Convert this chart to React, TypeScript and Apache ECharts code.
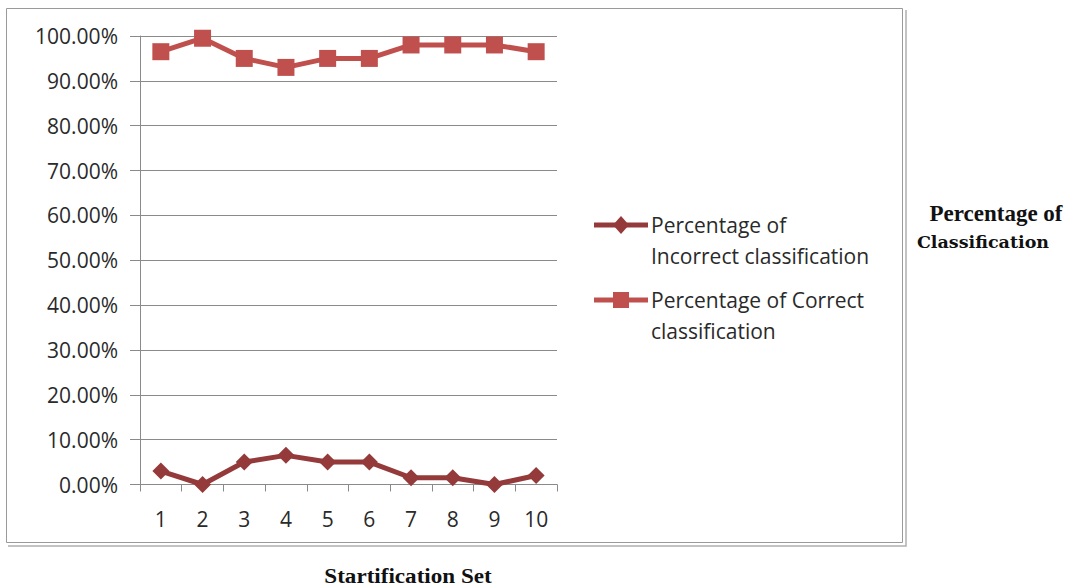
import React, { useEffect, useRef } from "react";
import * as echarts from "echarts";

// Stratification sets 1..10
const categories = ["1", "2", "3", "4", "5", "6", "7", "8", "9", "10"];
// Percentage of incorrect classification per set
const incorrectPct = [3, 0, 5, 6.5, 5, 5, 1.5, 1.5, 0, 2];
// Percentage of correct classification per set
const correctPct = [96.5, 99.5, 95, 93, 95, 95, 98, 98, 98, 96.5];

const incorrectName = "Percentage of Incorrect classification";
const correctName = "Percentage of Correct classification";

const darkRed = "#953a3a";
const red = "#c0504d";
const axisGrey = "#8a8a8a";
const labelFont = "'Open Sans', sans-serif";

export default function App() {
  const ref = useRef<HTMLDivElement>(null);

  useEffect(() => {
    if (!ref.current) return;
    const chart = echarts.init(ref.current, undefined, { renderer: "svg" });

    const legendText = {
      fontFamily: labelFont,
      fontSize: 21,
      fill: "#2a2a2a",
      lineHeight: 31,
      textVerticalAlign: "top",
    };

    chart.setOption({
      animation: false,
      backgroundColor: "#ffffff",
      grid: { left: 140, right: 512, top: 36, bottom: 102.5 },
      xAxis: {
        type: "category",
        data: categories,
        boundaryGap: true,
        axisLine: { show: true, lineStyle: { color: axisGrey, width: 1 } },
        axisTick: { show: true, inside: false, length: 7, lineStyle: { color: axisGrey } },
        axisLabel: { color: "#2a2a2a", fontFamily: labelFont, fontSize: 21, margin: 24 },
        splitLine: { show: false },
      },
      yAxis: {
        type: "value",
        min: 0,
        max: 100,
        interval: 10,
        axisLine: { show: true, lineStyle: { color: axisGrey, width: 1 } },
        axisTick: { show: true, length: 10, lineStyle: { color: axisGrey } },
        axisLabel: {
          color: "#2a2a2a",
          fontFamily: labelFont,
          fontSize: 21,
          margin: 22,
          formatter: (v: number) => v.toFixed(2) + "%",
        },
        splitLine: { show: true, lineStyle: { color: axisGrey, width: 1 } },
      },
      series: [
        {
          name: incorrectName,
          type: "line",
          data: incorrectPct,
          symbol: "diamond",
          symbolSize: 17,
          lineStyle: { color: darkRed, width: 5 },
          itemStyle: { color: darkRed },
        },
        {
          name: correctName,
          type: "line",
          data: correctPct,
          symbol: "rect",
          symbolSize: 17,
          lineStyle: { color: red, width: 5 },
          itemStyle: { color: red },
        },
      ],
      graphic: [
        // chart frame with a doubled right and bottom edge
        {
          type: "rect",
          shape: { x: 6.5, y: 8.5, width: 896, height: 534 },
          style: { fill: "none", stroke: "#9a9a9a", lineWidth: 1 },
          z: -1,
        },
        {
          type: "polyline",
          shape: { points: [[906, 10], [906, 546], [8, 546]] },
          style: { fill: "none", stroke: "#b0b0b0", lineWidth: 1.5 },
          z: -1,
        },
        // legend entry: incorrect
        {
          type: "line",
          shape: { x1: 594, y1: 225, x2: 648, y2: 225 },
          style: { stroke: darkRed, lineWidth: 5 },
        },
        {
          type: "polygon",
          shape: { points: [[621, 216], [629, 225], [621, 234], [613, 225]] },
          style: { fill: darkRed },
        },
        {
          type: "text",
          x: 651,
          y: 209,
          style: { ...legendText, text: "Percentage of\nIncorrect classification" },
        },
        // legend entry: correct
        {
          type: "line",
          shape: { x1: 594, y1: 300, x2: 648, y2: 300 },
          style: { stroke: red, lineWidth: 5 },
        },
        {
          type: "rect",
          shape: { x: 613, y: 292, width: 16, height: 16 },
          style: { fill: red },
        },
        {
          type: "text",
          x: 651,
          y: 284,
          style: { ...legendText, text: "Percentage of Correct\nclassification" },
        },
        // axis titles
        {
          type: "text",
          x: 996,
          y: 213,
          style: {
            text: "Percentage of",
            fontFamily: "'Liberation Serif', serif",
            fontWeight: "bold",
            fontSize: 23,
            fill: "#111",
            textAlign: "center",
            textVerticalAlign: "middle",
          },
        },
        {
          type: "text",
          x: 983,
          y: 242,
          style: {
            text: "Classification",
            fontFamily: "'DejaVu Serif', serif",
            fontWeight: "bold",
            fontSize: 17.5,
            fill: "#111",
            textAlign: "center",
            textVerticalAlign: "middle",
          },
        },
        {
          type: "text",
          x: 408,
          y: 576,
          scaleX: 1.1,
          style: {
            text: "Startification Set",
            fontFamily: "'Liberation Serif', serif",
            fontWeight: "bold",
            fontSize: 21,
            fill: "#111",
            textAlign: "center",
            textVerticalAlign: "middle",
          },
        },
      ],
    });

    return () => chart.dispose();
  }, []);

  return (
    <div
      ref={ref}
      style={{ position: "fixed", left: 0, top: 0, width: 1069, height: 587 }}
    />
  );
}
